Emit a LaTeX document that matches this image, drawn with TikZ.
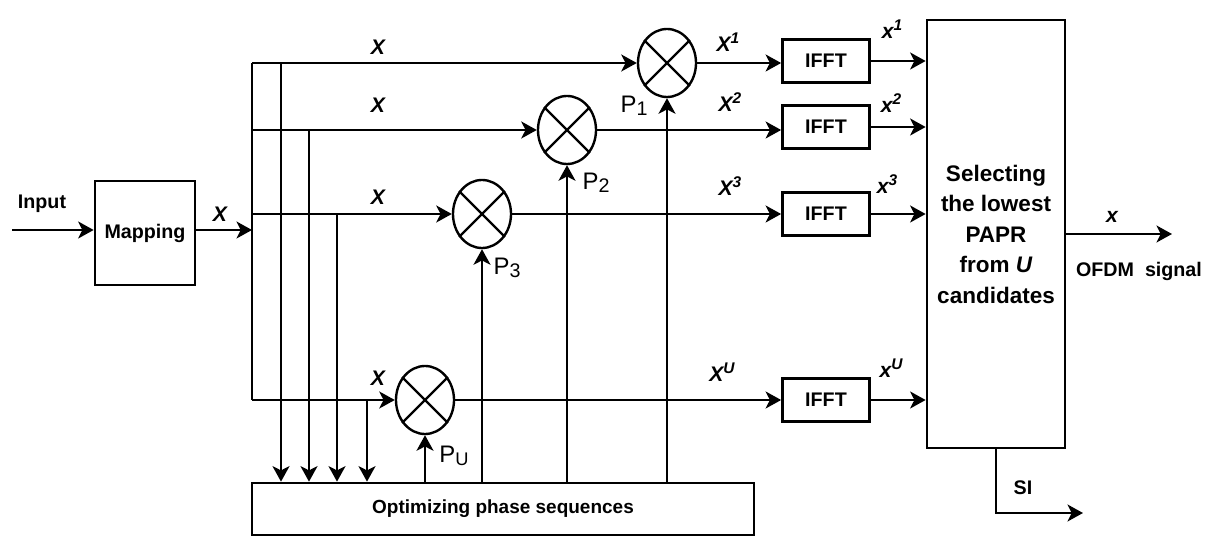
\documentclass[tikz,border=0pt]{standalone}
\usepackage{fontspec}
\setmainfont{Liberation Sans}
\usetikzlibrary{arrows.meta,shapes.geometric}
\begin{document}
\begin{tikzpicture}[x=0.025cm,y=-0.025cm, line width=1.9pt,
  >={Stealth[length=11pt,width=12pt,inset=3pt]},
  box/.style={draw, rectangle, line width=1.9pt, inner sep=0pt},
  mult/.style={draw, ellipse, line width=1.7pt, minimum width=1.45cm, minimum height=1.7cm, inner sep=0pt},
  lbl/.style={font=\fontsize{14}{16}\selectfont\bfseries, inner sep=0pt},
  vlbl/.style={font=\fontsize{15}{17}\selectfont\bfseries\itshape, inner sep=0pt},
  plbl/.style={font=\fontsize{17}{19}\selectfont, inner sep=0pt}]
\useasboundingbox (0,0) rectangle (1211,550);

% blocks
\node[box, minimum width=2.5cm, minimum height=2.6cm, lbl] (map) at (145,233) {Mapping};
\node[box, minimum width=12.55cm, minimum height=1.3cm, font=\fontsize{13.5}{16}\selectfont\bfseries] (opt) at (503,509) {Optimizing phase sequences};
\node[box, minimum width=3.45cm, minimum height=10.7cm, align=center, font=\fontsize{16}{21.7}\selectfont\bfseries] (sel) at (996,234) {Selecting\\the lowest\\PAPR\\from \textit{U}\\candidates};

\node[box, minimum width=2.175cm, minimum height=1.075cm, lbl] (f1) at (826,61) {IFFT};
\node[box, minimum width=2.175cm, minimum height=1.075cm, lbl] (f2) at (826,127) {IFFT};
\node[box, minimum width=2.175cm, minimum height=1.075cm, lbl] (f3) at (826,214) {IFFT};
\node[box, minimum width=2.175cm, minimum height=1.075cm, lbl] (fu) at (826,400) {IFFT};

\node[mult] (m1) at (667,63) {};
\node[mult] (m2) at (567,130) {};
\node[mult] (m3) at (482,214) {};
\node[mult] (mu) at (425,400) {};
\foreach \m in {m1,m2,m3,mu} {
  \draw[line width=1.6pt] (\m.45) -- (\m.225) (\m.135) -- (\m.315);
}

% coordinates
\coordinate (in) at (12,230);
\coordinate (b1) at (252,63);
\coordinate (b2) at (252,130);
\coordinate (b3) at (252,214);
\coordinate (bu) at (252,400);
\coordinate (t1) at (281,63);
\coordinate (t2) at (309,130);
\coordinate (t3) at (337,214);
\coordinate (tu) at (367,400);
\coordinate (oend) at (1172,234);
\coordinate (siend) at (1083,513);

% connectors
\draw[->] (in) -- (map.west |- in);
\draw[->] (map.east |- in) -- (in -| b1);
\draw (b1) -- (bu);
\draw[->] (b1) -- (m1.west);
\draw[->] (b2) -- (m2.west);
\draw[->] (b3) -- (m3.west);
\draw[->] (bu) -- (mu.west);
\foreach \t in {t1,t2,t3,tu} {
  \draw[->] (\t) -- (\t |- opt.north);
}
\foreach \m in {m1,m2,m3,mu} {
  \draw[->] (\m |- opt.north) -- (\m.south);
}
\draw[->] (m1.east) -- (m1.east -| f1.west);
\draw[->] (m2.east) -- (m2.east -| f2.west);
\draw[->] (m3.east) -- (m3.east -| f3.west);
\draw[->] (mu.east) -- (mu.east -| fu.west);
\foreach \f in {f1,f2,f3,fu} {
  \draw[->] (\f.east) -- (\f.east -| sel.west);
}
\draw[->] (sel.east |- oend) -- (oend);
\draw[->] (sel.south) |- (siend);

% labels
\newcommand{\supx}[1]{\raisebox{6pt}{\fontsize{11}{11}\selectfont #1}}
\node[lbl] (linput) at (42,204) {Input};
\node[vlbl] (lxm) at (220,214) {X};
\node[vlbl] (lx1) at (378,47) {X};
\node[vlbl] (lx2) at (378,105) {X};
\node[vlbl] (lx3) at (378,197) {X};
\node[vlbl] (lxu) at (378,378) {X};
\node[vlbl] (lX1) at (728,42) {X\supx{1}};
\node[vlbl] (lX2) at (730,102) {X\supx{2}};
\node[vlbl] (lX3) at (730,186) {X\supx{3}};
\node[vlbl] (lXu) at (722,372) {X\supx{U}};
\node[vlbl] (lo1) at (892,29) {x\supx{1}};
\node[vlbl] (lo2) at (891,103) {x\supx{2}};
\node[vlbl] (lo3) at (887,184) {x\supx{3}};
\node[vlbl] (lou) at (891,368) {x\supx{U}};
\node[plbl] (p1) at (634,106) {P\raisebox{-2pt}{\fontsize{14}{14}\selectfont 1}};
\node[plbl] (p2) at (596,183) {P\raisebox{-2pt}{\fontsize{14}{14}\selectfont 2}};
\node[plbl] (p3) at (507,268) {P\raisebox{-2pt}{\fontsize{14}{14}\selectfont 3}};
\node[plbl] (pu) at (454,456) {P\raisebox{-2pt}{\fontsize{13}{13}\selectfont U}};
\node[vlbl] (lout) at (1112,217) {x};
\node[lbl] (lofdm) at (1139,271) {OFDM\ \ signal};
\node[lbl] (lsi) at (1023,488) {SI};
\end{tikzpicture}
\end{document}
